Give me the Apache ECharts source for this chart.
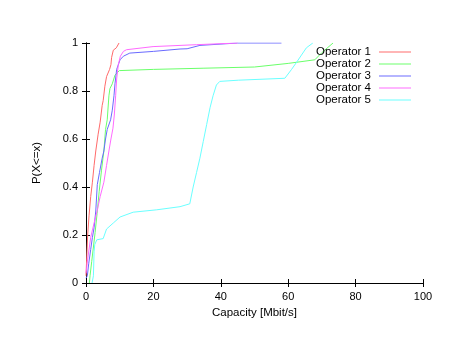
<!DOCTYPE html>
<html>
<head>
<meta charset="utf-8">
<script src="https://cdn.jsdelivr.net/npm/echarts@6/dist/echarts.min.js"></script>
<style>html,body{margin:0;padding:0;background:#fff}#c{width:457px;height:353px}</style>
</head>
<body>
<div id="c"></div>
<script>
const seriesNames = ['Operator 1','Operator 2','Operator 3','Operator 4','Operator 5'];
const xTicks = [0,20,40,60,80,100];
const yTicks = [0,0.2,0.4,0.6,0.8,1];
const op1 = [[0,0.03],[0.2,0.1],[0.5,0.2],[0.9,0.28],[1.4,0.36],[1.9,0.42],[2.4,0.49],[2.9,0.55],[3.6,0.62],[4.2,0.67],[4.8,0.74],[5.1,0.76],[5.6,0.82],[6.1,0.86],[7.0,0.89],[7.4,0.91],[7.6,0.94],[8.1,0.97],[9.0,0.98],[9.8,1.0]];
const op2 = [[1.0,0],[1.2,0.03],[1.7,0.09],[2.2,0.15],[2.7,0.21],[3.3,0.29],[3.9,0.38],[4.6,0.47],[5.3,0.55],[5.8,0.64],[6.3,0.68],[6.8,0.78],[7.1,0.81],[7.8,0.83],[8.6,0.866],[9.9,0.885],[20,0.89],[35,0.895],[50,0.90],[60,0.915],[67.9,0.93],[70,0.96],[73.3,1.0]];
const op3 = [[0,0.02],[0.4,0.03],[0.8,0.08],[1.4,0.14],[1.9,0.19],[2.4,0.23],[2.9,0.3],[3.35,0.41],[4.0,0.46],[4.8,0.52],[5.3,0.55],[5.8,0.6],[6.3,0.64],[7.3,0.68],[7.8,0.72],[8.3,0.78],[8.6,0.83],[9.1,0.89],[10.1,0.93],[11.1,0.945],[13,0.958],[20,0.965],[27.9,0.975],[30,0.976],[33.8,0.99],[45,1.0],[58,1.0]];
const op4 = [[0,0.04],[0.5,0.1],[1.4,0.19],[2.4,0.25],[3.3,0.3],[4.2,0.36],[5.3,0.42],[6.1,0.49],[6.8,0.55],[7.4,0.6],[8.0,0.645],[8.4,0.7],[8.8,0.78],[9.1,0.85],[9.6,0.91],[10.2,0.945],[11.1,0.965],[12,0.972],[19.9,0.985],[32.8,0.993],[45,1.0]];
const op5 = [[1.8,0],[2.2,0.03],[2.4,0.13],[2.6,0.16],[3.2,0.18],[5.1,0.185],[6.1,0.225],[8.1,0.25],[10.1,0.275],[14,0.295],[21,0.305],[27.9,0.318],[30.8,0.33],[31.8,0.40],[32.8,0.46],[33.8,0.52],[34.8,0.59],[35.8,0.66],[36.8,0.73],[37.7,0.78],[38.7,0.825],[39.7,0.84],[45.2,0.845],[59,0.853],[61,0.89],[62.5,0.92],[65.4,0.98],[67.3,1.0]];
const colors = ['#ff6a6a','#6aff6a','#6a6aff','#ff6aff','#6affff'];
const allData = [op1,op2,op3,op4,op5];

const font = 'Liberation Sans, Arial, sans-serif';
const chart = echarts.init(document.getElementById('c'), null, {renderer:'canvas'});
const tickStyle = {show:true, inside:true, length:4, lineStyle:{color:'#000', width:1}};
const lineStyle = {lineStyle:{color:'#000', width:1}};
chart.setOption({
  animation:false,
  backgroundColor:'#fff',
  grid:{left:86, right:34, top:43, bottom:70, containLabel:false},
  legend:{
    orient:'vertical', right:41, top:41, align:'right',
    icon:'rect', itemWidth:32, itemHeight:1, itemGap:0,
    textStyle:{fontFamily:font, fontSize:11.5, color:'#000', lineHeight:12, padding:[0,3,0,0]},
    data:seriesNames
  },
  xAxis:[{
    type:'value', min:0, max:100, interval:20, position:'bottom',
    axisLine:lineStyle, axisTick:tickStyle, splitLine:{show:false},
    axisLabel:{fontFamily:font, fontSize:11, color:'#000', margin:8},
    name:'Capacity [Mbit/s]', nameLocation:'middle', nameGap:23,
    nameTextStyle:{fontFamily:font, fontSize:11.5, color:'#000'}
  },{
    type:'value', min:0, max:100, interval:20, position:'top',
    axisLine:lineStyle, axisTick:tickStyle, splitLine:{show:false}, axisLabel:{show:false}
  }],
  yAxis:[{
    type:'value', min:0, max:1, interval:0.2, position:'left',
    axisLine:lineStyle, axisTick:tickStyle, splitLine:{show:false},
    axisLabel:{fontFamily:font, fontSize:11, color:'#000', margin:8, formatter:v=>String(Math.round(v*10)/10)},
    name:'P(X<=x)', nameLocation:'middle', nameGap:43, nameRotate:90,
    nameTextStyle:{fontFamily:font, fontSize:11.5, color:'#000'}
  },{
    type:'value', min:0, max:1, interval:0.2, position:'right',
    axisLine:lineStyle, axisTick:tickStyle, splitLine:{show:false}, axisLabel:{show:false}
  }],
  series: seriesNames.map((n,i)=>({
    name:n, type:'line', data:allData[i], symbol:'none', showSymbol:false,
    xAxisIndex:0, yAxisIndex:0,
    lineStyle:{color:colors[i], width:1}, itemStyle:{color:colors[i]},
    clip:true
  }))
});
</script>
</body>
</html>
